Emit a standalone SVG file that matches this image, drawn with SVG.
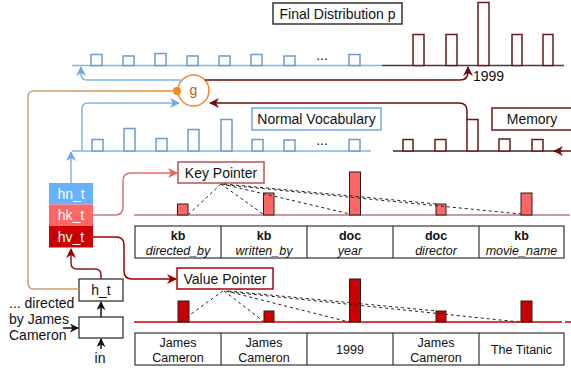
<svg xmlns="http://www.w3.org/2000/svg" width="571" height="374" viewBox="0 0 571 374">
  <style>
    text { font-family: "Liberation Sans", Arial, sans-serif; font-size: 14px; fill: #111; }
    .lbl { text-anchor: middle; }
    .cell { font-size: 12.5px; text-anchor: middle; }
    .b { font-weight: bold; }
    .i { font-style: italic; }
    .wt { fill: #fff; text-anchor: middle; }
    .bbar { fill: #fff; stroke: #6E9ACF; stroke-width: 1.5; }
    .rbar { fill: #fff; stroke: #6B1A1A; stroke-width: 1.5; }
    .kbar { fill: #FF6666; stroke: #222; stroke-width: 1; }
    .vbar { fill: #CC0000; stroke: #222; stroke-width: 1; }
    .dash { fill: none; stroke: #222; stroke-width: 1; stroke-dasharray: 3 3; }
    .tbl { fill: #fff; stroke: #333; stroke-width: 1.2; }
    .conn { fill: none; stroke-width: 1.5; }
  </style>
  <defs>
    <marker id="arBlue" viewBox="0 0 10 10" refX="9" refY="5" markerWidth="10" markerHeight="10" markerUnits="userSpaceOnUse" orient="auto">
      <path d="M0,0 L10,5 L0,10 L3,5 z" fill="#6FA8E0"/>
    </marker>
    <marker id="arMaroon" viewBox="0 0 10 10" refX="9" refY="5" markerWidth="10" markerHeight="10" markerUnits="userSpaceOnUse" orient="auto">
      <path d="M0,0 L10,5 L0,10 L3,5 z" fill="#6B0E0E"/>
    </marker>
    <marker id="arDark" viewBox="0 0 10 10" refX="9" refY="5" markerWidth="10" markerHeight="10" markerUnits="userSpaceOnUse" orient="auto">
      <path d="M0,0 L10,5 L0,10 L3,5 z" fill="#990000"/>
    </marker>
    <marker id="arPink" viewBox="0 0 10 10" refX="9" refY="5" markerWidth="10" markerHeight="10" markerUnits="userSpaceOnUse" orient="auto">
      <path d="M0,0 L10,5 L0,10 L3,5 z" fill="#F06060"/>
    </marker>
    <marker id="arBlack" viewBox="0 0 10 10" refX="9" refY="5" markerWidth="9" markerHeight="9" markerUnits="userSpaceOnUse" orient="auto">
      <path d="M0,0 L10,5 L0,10 L3,5 z" fill="#111"/>
    </marker>
    <marker id="dotOrange" viewBox="0 0 10 10" refX="5" refY="5" markerWidth="8" markerHeight="8" markerUnits="userSpaceOnUse">
      <circle cx="5" cy="5" r="5" fill="#F08A24"/>
    </marker>
    <linearGradient id="gOrange" gradientUnits="userSpaceOnUse" x1="28" y1="0" x2="177" y2="0">
      <stop offset="0" stop-color="#C9A27C"/>
      <stop offset="1" stop-color="#F08A24"/>
    </linearGradient>
    <linearGradient id="gPink" gradientUnits="userSpaceOnUse" x1="93" y1="0" x2="176" y2="0">
      <stop offset="0" stop-color="#C08080"/>
      <stop offset="1" stop-color="#F06060"/>
    </linearGradient>
  </defs>

  <!-- Final distribution row -->
  <g id="final-distribution">
    <rect x="273" y="3" width="129" height="21" fill="#fff" stroke="#333" stroke-width="1.5"/>
    <text class="lbl" x="337.5" y="18.5">Final Distribution p</text>
    <line x1="72" y1="65.5" x2="382" y2="65.5" stroke="#7EB6EA" stroke-width="1.5"/>
    <line x1="382" y1="65.5" x2="564" y2="65.5" stroke="#4A3A3A" stroke-width="1.5"/>
    <rect class="bbar" x="91" y="54.5" width="11" height="11"/>
    <rect class="bbar" x="123" y="56" width="11" height="9.5"/>
    <rect class="bbar" x="155" y="53.5" width="11" height="12"/>
    <rect class="bbar" x="187" y="56" width="11" height="9.5"/>
    <rect class="bbar" x="219" y="56" width="11" height="9.5"/>
    <rect class="bbar" x="251" y="54.5" width="11" height="11"/>
    <rect class="bbar" x="284" y="56" width="11" height="9.5"/>
    <text class="lbl" x="322" y="60">...</text>
    <rect class="bbar" x="349" y="54.5" width="11" height="11"/>
    <rect class="rbar" x="413" y="34.5" width="11" height="31"/>
    <rect class="rbar" x="446" y="34.5" width="11" height="31"/>
    <rect class="rbar" x="478" y="2.5" width="11" height="63"/>
    <rect class="rbar" x="512" y="34.5" width="10" height="31"/>
    <rect class="rbar" x="543" y="34.5" width="10" height="31"/>
    <text x="473" y="81">1999</text>
  </g>

  <!-- Gate -->
  <g id="gate">
    <circle cx="193.5" cy="90.5" r="15.5" fill="#fff" stroke="#F08A24" stroke-width="1.5"/>
    <text class="lbl" x="193.5" y="94.5" style="fill:#B5600F">g</text>
  </g>

  <!-- Normal vocabulary distribution -->
  <g id="normal-vocabulary">
    <rect x="252" y="108" width="129" height="22" fill="#fff" stroke="#6FA8DC" stroke-width="1.5"/>
    <text class="lbl" x="316.5" y="124">Normal Vocabulary</text>
    <line x1="72" y1="151" x2="371" y2="151" stroke="#7EB6EA" stroke-width="1.5"/>
    <rect class="bbar" x="92" y="139.5" width="11" height="11.5"/>
    <rect class="bbar" x="124" y="128.5" width="11" height="22.5"/>
    <rect class="bbar" x="156" y="138.5" width="11" height="12.5"/>
    <rect class="bbar" x="188" y="129.5" width="11" height="21.5"/>
    <rect class="bbar" x="221" y="119.5" width="11" height="31.5"/>
    <rect class="bbar" x="252" y="139.5" width="11" height="11.5"/>
    <rect class="bbar" x="284" y="140" width="11" height="11"/>
    <text class="lbl" x="322" y="145">...</text>
    <rect class="bbar" x="349" y="139.5" width="11" height="11.5"/>
  </g>

  <!-- Memory distribution -->
  <g id="memory">
    <rect x="492" y="108" width="90" height="22" fill="#fff" stroke="#6B1A1A" stroke-width="1.5"/>
    <text class="lbl" x="532" y="124">Memory</text>
    <line x1="393" y1="151" x2="562" y2="151" stroke="#3A2A2A" stroke-width="1.5"/>
    <rect class="rbar" x="403" y="139.5" width="10" height="11.5"/>
    <rect class="rbar" x="435" y="139.5" width="11" height="11.5"/>
    <rect class="rbar" x="467" y="119.5" width="11" height="31.5"/>
    <rect class="rbar" x="499" y="139" width="11" height="12"/>
    <rect class="rbar" x="532" y="139.5" width="11" height="11.5"/>
  </g>

  <!-- Decoder state split into three heads -->
  <g id="state-heads">
    <rect x="49" y="183" width="44" height="21.5" fill="#66B2FF"/>
    <rect x="49" y="204.5" width="44" height="21.5" fill="#FF6666"/>
    <rect x="49" y="226" width="44" height="21.5" fill="#CC0000"/>
    <text class="wt" x="71" y="198.5">hn_t</text>
    <text class="wt" x="71" y="220">hk_t</text>
    <text class="wt" x="71" y="241.5">hv_t</text>
  </g>

  <!-- Key pointer -->
  <g id="key-pointer">
    <rect x="178" y="162" width="86" height="21" fill="#fff" stroke="#B85450" stroke-width="1.5"/>
    <text class="lbl" x="221" y="177.5">Key Pointer</text>
    <line x1="134" y1="215" x2="570" y2="215" stroke="#B87C7C" stroke-width="1.5"/>
    <rect class="kbar" x="177.5" y="204" width="10.5" height="11"/>
    <rect class="kbar" x="263.5" y="193" width="10.5" height="22"/>
    <rect class="kbar" x="349.5" y="172" width="11" height="43"/>
    <rect class="kbar" x="436" y="204" width="10" height="11"/>
    <rect class="kbar" x="521" y="193" width="11" height="22"/>
    <path class="dash" d="M221,184 L189,214 M221,184 L263,214 M222,184 L350,214 M224,184 L437,204 M226,185 L521,214"/>
  </g>

  <!-- Key table -->
  <g id="key-table">
    <rect class="tbl" x="135" y="226" width="429" height="32"/>
    <path d="M221,226 V258 M307,226 V258 M393,226 V258 M479,226 V258" stroke="#333" stroke-width="1.2"/>
    <text class="cell b" x="178" y="240">kb</text>
    <text class="cell i" x="178" y="255">directed_by</text>
    <text class="cell b" x="264" y="240">kb</text>
    <text class="cell i" x="264" y="255">written_by</text>
    <text class="cell b" x="350" y="240">doc</text>
    <text class="cell i" x="350" y="255">year</text>
    <text class="cell b" x="436" y="240">doc</text>
    <text class="cell i" x="436" y="255">director</text>
    <text class="cell b" x="521.5" y="240">kb</text>
    <text class="cell i" x="521.5" y="255">movie_name</text>
  </g>

  <!-- Value pointer -->
  <g id="value-pointer">
    <rect x="177" y="268" width="96" height="21" fill="#fff" stroke="#B20000" stroke-width="1.5"/>
    <text class="lbl" x="225" y="283.5">Value Pointer</text>
    <line x1="134" y1="322" x2="562" y2="322" stroke="#CC0000" stroke-width="1.5"/>
    <line x1="565" y1="322" x2="571" y2="322" stroke="#CC0000" stroke-width="1.5"/>
    <rect class="vbar" x="178" y="301" width="11" height="21"/>
    <rect class="vbar" x="264" y="311" width="10" height="11"/>
    <rect class="vbar" x="349.5" y="279" width="11" height="43"/>
    <rect class="vbar" x="436" y="311" width="10" height="11"/>
    <rect class="vbar" x="521" y="301" width="11" height="21"/>
    <path class="dash" d="M223,291 L180,322 M224,291 L263,321 M226,291 L349,322 M228,291 L437,311 M230,292 L520,322"/>
  </g>

  <!-- Value table -->
  <g id="value-table">
    <rect class="tbl" x="135" y="333" width="429" height="32"/>
    <path d="M221,333 V365 M307,333 V365 M393,333 V365 M479,333 V365" stroke="#333" stroke-width="1.2"/>
    <text class="cell" x="178" y="346.5">James</text>
    <text class="cell" x="178" y="361.5">Cameron</text>
    <text class="cell" x="264" y="346.5">James</text>
    <text class="cell" x="264" y="361.5">Cameron</text>
    <text class="cell" x="350" y="353.5">1999</text>
    <text class="cell" x="436" y="346.5">James</text>
    <text class="cell" x="436" y="361.5">Cameron</text>
    <text class="cell" x="521.5" y="353.5">The Titanic</text>
  </g>

  <!-- Encoder cells and input -->
  <g id="h-t">
    <rect x="79" y="279" width="44" height="22" fill="#fff" stroke="#222" stroke-width="1.2"/>
    <text class="lbl" x="101" y="295">h_t</text>
  </g>
  <g id="rnn-cell">
    <rect x="79" y="317" width="44" height="21" fill="#fff" stroke="#222" stroke-width="1.2"/>
  </g>
  <g id="input-text">
    <text x="9" y="308">... directed</text>
    <text x="9" y="324">by James</text>
    <text x="9" y="340">Cameron</text>
    <text class="lbl" x="100" y="363">in</text>
  </g>

  <!-- Connectors -->
  <g id="connectors">
    <path class="conn" d="M183,80 H87 Q81,80 81,74 V67" stroke="#7EB6EA" marker-end="url(#arBlue)"/>
    <path class="conn" d="M205,80 H460 Q468,80 468,72 V67" stroke="#6B0E0E" marker-end="url(#arMaroon)"/>
    <path class="conn" d="M82,151 V109 Q82,103 88,103 H179" stroke="#7EB6EA" marker-end="url(#arBlue)"/>
    <path class="conn" d="M467,119 V111 Q467,103 459,103 H210" stroke="#6B0E0E" marker-end="url(#arMaroon)"/>
    <path class="conn" d="M177,91 H34 Q28,91 28,97 V283 Q28,289 34,289 H79" stroke="url(#gOrange)" marker-start="url(#dotOrange)"/>
    <path class="conn" d="M71,183 V152" stroke="#7EB6EA" marker-end="url(#arBlue)"/>
    <path class="conn" d="M93,215 H115 Q123,215 123,207 V181 Q123,173 131,173 H177" stroke="url(#gPink)" marker-end="url(#arPink)"/>
    <path class="conn" d="M93,237 H116 Q124,237 124,245 V271 Q124,279 132,279 H176" stroke="#990000" marker-end="url(#arDark)"/>
    <path class="conn" d="M101,279 V275 Q101,269 95,269 H77 Q71,269 71,263 V249" stroke="#8E1B1B" marker-end="url(#arDark)"/>
    <path class="conn" d="M101,317 V302" stroke="#111" marker-end="url(#arBlack)"/>
    <path class="conn" d="M101,349 V339" stroke="#111" marker-end="url(#arBlack)"/>
    <path class="conn" d="M63,328 H78" stroke="#111" marker-end="url(#arBlack)"/>
    <path class="conn" d="M571,151 H554" stroke="#6B0E0E" marker-end="url(#arMaroon)"/>
  </g>
</svg>
